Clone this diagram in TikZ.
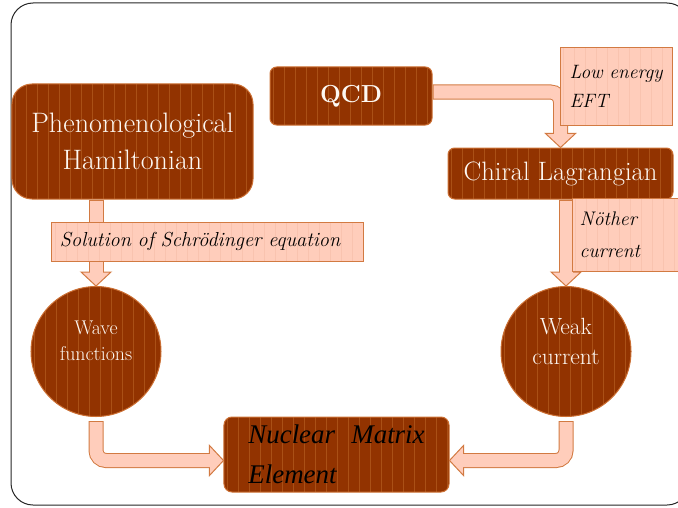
\documentclass[tikz,border=0pt]{standalone}
\usepackage{fontspec}
\newfontfamily\nmefont{Liberation Serif}
\usetikzlibrary{calc}
\definecolor{boxbrown}{RGB}{146,51,0}
\definecolor{boxstripe}{RGB}{170,80,22}
\definecolor{boxedge}{RGB}{204,112,52}
\definecolor{peach}{RGB}{255,205,187}
\definecolor{peachstripe}{RGB}{249,195,175}
\definecolor{peachedge}{RGB}{210,122,66}
\definecolor{boxtext}{RGB}{253,248,242}
\tikzset{
  stripes/.style={path picture={
    \foreach \s in {0,...,40}
      \draw[#1, line width=0.025cm] ([xshift={\s*0.33cm+0.1cm}]path picture bounding box.south west) -- ([xshift={\s*0.33cm+0.1cm}]path picture bounding box.north west);}},
  darkbox/.style={draw=boxedge, line width=0.03cm, fill=boxbrown, stripes=boxstripe, text=boxtext, align=center, inner sep=0pt},
  notebox/.style={draw=peachedge, line width=0.03cm, fill=peach, stripes=peachstripe, align=left, inner sep=0pt},
  shaftout/.style={draw=peachedge, line width=0.45cm, rounded corners=0.3cm},
  shaftin/.style={draw=peach, line width=0.39cm, rounded corners=0.3cm},
  pics/tip/.style={code={\filldraw[draw=peachedge, fill=peach, line width=0.03cm, line join=miter] (0,0) -- (-14,15) -- (-14,-15) -- cycle;}}
}
\begin{document}
\begin{tikzpicture}[x=0.03cm, y=-0.03cm]
    \path[use as bounding box] (0,0) rectangle (678,507);
    \clip (0,0) rectangle (678,507);
    \draw[line width=0.03cm, rounded corners=0.66cm, black!85] (11,3) rectangle (689,505);

    \node[darkbox, rounded corners=0.6cm, minimum width=7.23cm, minimum height=3.45cm, font=\fontsize{24}{31.5}\selectfont] (ham) at (132.5,141.5) {Phenomenological\\Hamiltonian};
    \node[darkbox, rounded corners=0.2cm, minimum width=4.86cm, minimum height=1.74cm, font=\bfseries\fontsize{21}{24}\selectfont] (qcd) at (351,96) {QCD};
    \node[darkbox, rounded corners=0.2cm, minimum width=6.75cm, minimum height=1.53cm, font=\fontsize{22.7}{26}\selectfont] (chiral) at (560.5,173.5) {Chiral Lagrangian};
    \node[darkbox, circle, minimum size=3.9cm, font=\fontsize{17}{22}\selectfont] (wave) at (96,351.5) {Wave\\functions\\[-3pt]\mbox{}};
    \node[darkbox, circle, minimum size=3.9cm, font=\fontsize{20}{25.5}\selectfont] (weak) at (566,351.5) {Weak\\current\\[-8.5pt]\mbox{}};
    \node[darkbox, rounded corners=0.24cm, minimum width=6.75cm, minimum height=2.25cm, text=black, align=left, font=\nmefont\itshape\fontsize{23}{34}\selectfont] (nme) at (336.5,454.5) {Nuclear\hspace{0.6em}Matrix\\Element};

    \draw[shaftout, shorten >=0.42cm] (ham.south -| wave.north) -- (wave.north);
    \pic[rotate=-90] at (wave.north) {tip};
    \draw[shaftin, shorten >=0.375cm] ($(ham.south -| wave.north)+(0,1)$) -- (wave.north);

    \draw[shaftout, shorten >=0.42cm] ($(qcd.east)+(0,-4)$) -| (chiral.north);
    \pic[rotate=-90] at (chiral.north) {tip};
    \draw[shaftin, shorten >=0.375cm] ($(qcd.east)+(1,-4)$) -| (chiral.north);

    \draw[shaftout, shorten >=0.42cm] (chiral.south -| weak.north) -- (weak.north);
    \pic[rotate=-90] at (weak.north) {tip};
    \draw[shaftin, shorten >=0.375cm] ($(chiral.south -| weak.north)+(0,1)$) -- (weak.north);

    \draw[shaftout, shorten >=0.42cm] ($(wave.south)+(0,4)$) |- ($(nme.west)+(0,6)$);
    \pic at ($(nme.west)+(0,6)$) {tip};
    \draw[shaftin, shorten >=0.375cm] ($(wave.south)+(0,5)$) |- ($(nme.west)+(0,6)$);

    \draw[shaftout, shorten >=0.42cm] ($(weak.south)+(0,4)$) |- ($(nme.east)+(0,6)$);
    \pic[rotate=180] at ($(nme.east)+(0,6)$) {tip};
    \draw[shaftin, shorten >=0.375cm] ($(weak.south)+(0,5)$) |- ($(nme.east)+(0,6)$);

    \node[notebox, minimum width=3.36cm, minimum height=2.31cm, font=\itshape\fontsize{16.5}{25}\selectfont] (lowe) at (616,86.5) {Low energy\\EFT};
    \node[notebox, inner xsep=0.24cm, text width=8.85cm, minimum height=1.17cm, font=\itshape\fontsize{17.3}{20}\selectfont] (sol) at (207.5,241.5) {Solution of Schrödinger equation};
    \node[notebox, anchor=north west, inner xsep=0.21cm, text width=3.3cm, minimum height=2.19cm, font=\itshape\fontsize{16.8}{27}\selectfont] (noether) at (572,198) {Nöther\\current};
\end{tikzpicture}
\end{document}
